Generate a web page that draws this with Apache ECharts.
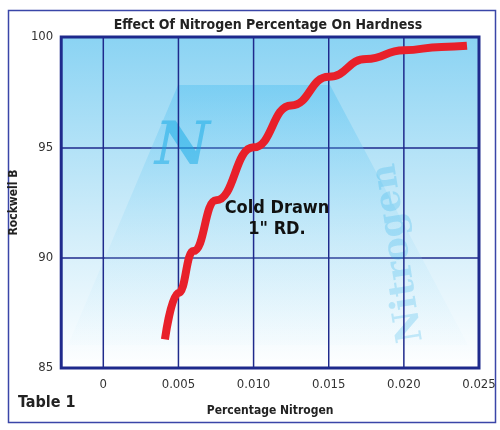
<!DOCTYPE html>
<html>
<head>
<meta charset="utf-8">
<script src="https://cdn.jsdelivr.net/npm/echarts@6/dist/echarts.min.js"></script>
<style>
html,body{margin:0;padding:0;background:#fff;}
#main{width:500px;height:430px;}
</style>
</head>
<body>
<div id="main"></div>
<script>
// 曲线数据 (百分比氮, 洛氏硬度B)
var nitrogen = [0.0041, 0.005, 0.006, 0.0075, 0.010, 0.0125, 0.015, 0.0175, 0.020, 0.0225, 0.0242];
var hardness = [86.3, 88.4, 90.3, 92.6, 95.0, 96.9, 98.2, 99.0, 99.4, 99.55, 99.6];
var xTicks = [0, 0.005, 0.010, 0.015, 0.020, 0.025];
var xGrid = [0, 0.005, 0.010, 0.015, 0.020];
var yTicks = [85, 90, 95, 100];

var font = '"DejaVu Sans Condensed", "Liberation Sans Narrow", Arial, sans-serif';
var navy = '#1f2a8c';

// 竖直网格线数据
var gridData = [];
xGrid.forEach(function (v) {
  gridData.push([v, 85], [v, 100], '-');
});

var chart = echarts.init(document.getElementById('main'));
var option = {
  backgroundColor: '#fff',
  animation: false,
  title: {
    text: 'Effect Of Nitrogen Percentage On Hardness',
    left: 263, top: 13, textAlign: 'center',
    textStyle: {fontFamily: font, fontSize: 14, fontWeight: 'bold', color: '#222'}
  },
  grid: {
    left: 52, right: 21, top: 37, bottom: 62,
    show: true,
    borderColor: navy, borderWidth: 3,
    backgroundColor: new echarts.graphic.LinearGradient(0, 0, 0, 1, [
      {offset: 0, color: '#8ad3f3'},
      {offset: 0.6, color: '#d3eefa'},
      {offset: 1, color: '#ffffff'}
    ])
  },
  xAxis: {
    type: 'value', min: -0.0028, max: 0.025,
    name: 'Percentage Nitrogen', nameLocation: 'middle', nameGap: 37,
    nameTextStyle: {fontFamily: font, fontSize: 12, fontWeight: 'bold', color: '#222'},
    axisLine: {show: false}, axisTick: {show: false},
    splitLine: {show: false},
    axisLabel: {
      customValues: xTicks, fontFamily: font, fontSize: 13, color: '#333', margin: 10,
      formatter: function (v) { return v === 0 ? '0' : v.toFixed(3); }
    }
  },
  yAxis: {
    type: 'value', min: 85, max: 100, interval: 5,
    name: 'Rockwell B', nameLocation: 'middle', nameGap: 30, nameRotate: 90,
    nameTextStyle: {fontFamily: font, fontSize: 12, fontWeight: 'bold', color: '#222'},
    axisLine: {show: false}, axisTick: {show: false},
    splitLine: {show: true, lineStyle: {color: navy, width: 1.5}},
    axisLabel: {fontFamily: font, fontSize: 13, color: '#333', margin: 8}
  },
  graphic: [
    {type: 'rect', left: 6, top: 8, shape: {width: 487, height: 412},
     style: {fill: 'none', stroke: '#3a46a8', lineWidth: 1.5}, z: 0},
    {type: 'polygon', shape: {points: [[178, 85], [330, 85], [468, 345], [68, 345]]},
     style: {fill: new echarts.graphic.LinearGradient(0, 0, 0, 1, [
       {offset: 0, color: 'rgba(60,185,240,0.35)'},
       {offset: 1, color: 'rgba(200,235,250,0.05)'}
     ])}, z: 1},
    {type: 'text', x: 155, y: 118,
     style: {text: 'N', font: 'italic bold 60px "DejaVu Serif", serif', fill: 'rgba(20,170,230,0.5)'}, z: 2},
    {type: 'text', x: 395, y: 345, rotation: Math.PI / 2 * 1.1,
     style: {text: 'Nitrogen', font: 'bold 36px "DejaVu Serif", serif', fill: 'rgba(20,170,230,0.22)'}, z: 2},
    {type: 'text', x: 277, y: 198,
     style: {text: 'Cold Drawn\n1" RD.', align: 'center', font: 'bold 18px ' + font, fill: '#111', lineHeight: 21}, z: 10},
    {type: 'text', left: 18, top: 395,
     style: {text: 'Table 1', font: 'bold 16px ' + font, fill: '#222'}, z: 10}
  ],
  series: [
    {
      type: 'line', symbol: 'none', z: 3, silent: true,
      data: gridData, connectNulls: false,
      lineStyle: {color: navy, width: 1.5}
    },
    {
      type: 'line', smooth: 0.5, smoothMonotone: 'x', symbol: 'none', z: 5,
      data: nitrogen.map(function (x, i) { return [x, hardness[i]]; }),
      lineStyle: {color: '#e8202a', width: 8, cap: 'butt'}
    }
  ]
};
chart.setOption(option);
</script>
</body>
</html>
